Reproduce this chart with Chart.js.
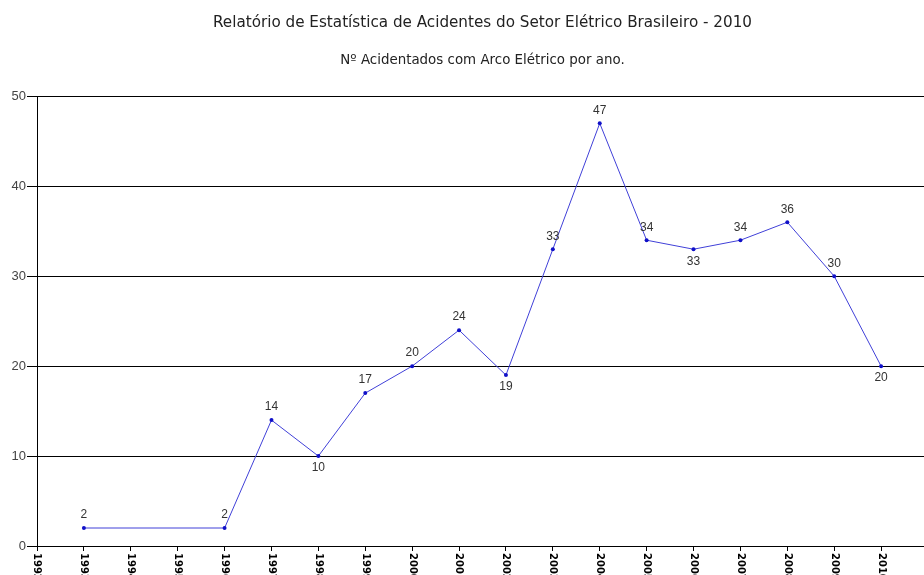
<!DOCTYPE html>
<html>
<head>
<meta charset="utf-8">
<script src="https://cdn.jsdelivr.net/npm/chart.js@4.4.0/dist/chart.umd.min.js"></script>
<style>
  html, body { margin: 0; padding: 0; background: #fff; overflow: hidden; }
  #grafico { display: block; }
</style>
</head>
<body>
<div style="width:928px;height:580px;">
  <canvas id="grafico" width="928" height="580"></canvas>
</div>
<script>
// anos no eixo x
const anos = ['1992', '1993', '1994', '1995', '1996', '1997', '1998', '1999', '2000', '2001',
    '2002', '2003', '2004', '2005', '2006', '2007', '2008', '2009', '2010', '2011'];

// nº de acidentados com arco elétrico (null = sem registro)
const acidentados = [null, 2, null, null, 2, 14, 10, 17, 20, 24,
    19, 33, 47, 34, 33, 34, 36, 30, 20, null];

const ticksY = [0, 10, 20, 30, 40, 50];

const titulo = 'Relatório de Estatística de Acidentes do Setor Elétrico Brasileiro - 2010';
const subtitulo = 'Nº Acidentados com Arco Elétrico por ano.';

// escreve o valor em cima (ou embaixo, nos vales) de cada ponto
const rotulosPontos = {
    id: 'rotulosPontos',
    afterDatasetsDraw(chart) {
        const ctx = chart.ctx;
        const meta = chart.getDatasetMeta(0);
        const dados = chart.data.datasets[0].data;
        ctx.save();
        ctx.font = '12px "Liberation Sans", Arial, sans-serif';
        ctx.fillStyle = '#333';
        ctx.textAlign = 'center';
        meta.data.forEach((ponto, i) => {
            let v = dados[i];
            if (v == null) return;
            let ant = null, prox = null;
            for (let j = i - 1; j >= 0; j--) { if (dados[j] != null) { ant = dados[j]; break; } }
            for (let j = i + 1; j < dados.length; j++) { if (dados[j] != null) { prox = dados[j]; break; } }
            let embaixo = ant != null && v < ant && (prox == null || v < prox);
            if (embaixo) {
                ctx.textBaseline = 'top';
                ctx.fillText(String(v), ponto.x, ponto.y + 6);
            } else {
                ctx.textBaseline = 'bottom';
                ctx.fillText(String(v), ponto.x, ponto.y - 7);
            }
        });
        ctx.restore();
    }
};

// rótulos do eixo x, girados lendo de cima para baixo
const rotulosAnos = {
    id: 'rotulosAnos',
    afterDraw(chart) {
        const ctx = chart.ctx;
        const x = chart.scales.x;
        ctx.save();
        ctx.font = 'bold 10px "DejaVu Sans", Tahoma, sans-serif';
        ctx.fillStyle = '#000';
        ctx.textAlign = 'left';
        ctx.textBaseline = 'middle';
        anos.forEach((ano, i) => {
            ctx.save();
            ctx.translate(x.getPixelForTick(i), x.top + 7);
            ctx.rotate(Math.PI / 2);
            ctx.fillText(ano, 0, 0);
            ctx.restore();
        });
        ctx.restore();
    }
};

const grafico = new Chart(document.getElementById('grafico'), {
    type: 'line',
    data: {
        labels: anos,
        datasets: [{
            label: 'Acidentados',
            data: acidentados,
            borderColor: '#4040d8',
            borderWidth: 1,
            pointRadius: 2,
            pointBackgroundColor: '#1010c8',
            pointBorderWidth: 0,
            spanGaps: true,
            tension: 0
        }]
    },
    options: {
        responsive: false,
        animation: false,
        layout: { autoPadding: false, padding: { top: 0, right: 0, bottom: 29, left: 0 } },
        plugins: {
            legend: { display: false },
            tooltip: { enabled: false },
            title: {
                display: true,
                text: titulo,
                fullSize: false,
                color: '#222',
                font: { family: '"DejaVu Sans", Tahoma, sans-serif', size: 15.2, weight: 'normal' },
                padding: { top: 14, bottom: 20 }
            },
            subtitle: {
                display: true,
                text: subtitulo,
                fullSize: false,
                color: '#222',
                font: { family: '"DejaVu Sans", Tahoma, sans-serif', size: 13.4 },
                padding: { top: 0, bottom: 28 }
            }
        },
        scales: {
            x: {
                type: 'category',
                offset: false,
                border: { color: '#000', width: 1 },
                grid: { drawOnChartArea: false, drawTicks: true, tickLength: 5, color: '#000' },
                ticks: { display: false }
            },
            y: {
                min: 0,
                max: 50,
                afterFit(scale) { scale.width = 37; },
                afterBuildTicks(scale) { scale.ticks = ticksY.map(v => ({ value: v })); },
                border: { color: '#000', width: 1 },
                grid: { color: '#000', tickLength: 10 },
                ticks: {
                    padding: 1,
                    color: '#444',
                    font: { family: '"Liberation Sans", Arial, sans-serif', size: 13 }
                }
            }
        }
    },
    plugins: [rotulosPontos, rotulosAnos]
});
</script>
</body>
</html>
